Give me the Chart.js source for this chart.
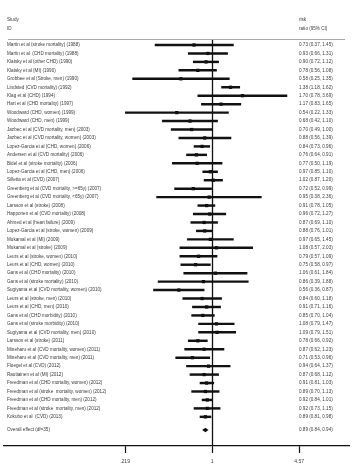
<!DOCTYPE html>
<html>
<head>
<meta charset="utf-8">
<script src="https://cdn.jsdelivr.net/npm/chart.js@4/dist/chart.umd.min.js"></script>
<style>
  html, body { margin: 0; padding: 0; background: #fff; }
  canvas { display: block; }
</style>
</head>
<body>
<canvas id="forest" width="354" height="472"></canvas>
<script>
// Study rows, top to bottom, with risk ratio and 95% CI
const studies = [
  "Martin et al (stroke mortality) (1988)",
  "Martin et al  (CHD mortality) (1988)",
  "Klatsky et al (other CHD) (1990)",
  "Klatsky et al (MI) (1990)",
  "Grobbee et al (Stroke, men) (1990)",
  "Lindsted (CVD mortality) (1992)",
  "Klag et al (CHD) (1994)",
  "Hart et al (CHD mortality) (1997)",
  "Woodward (CHD, women) (1999)",
  "Woodward (CHD, men) (1999)",
  "Jazbec et al (CVD mortality, men) (2003)",
  "Jazbec et al (CVD mortality, women) (2003)",
  "Lopez-Garcia et al (CHD, women) (2006)",
  "Andersen et al (CVD mortality) (2006)",
  "Bidel et al (stroke mortality) (2006)",
  "Lopez-Garcia et al (CHD, men) (2006)",
  "Silletta et al (CVD) (2007)",
  "Greenberg et al (CVD mortality, >=65y) (2007)",
  "Greenberg et al (CVD mortality, <65y) (2007)",
  "Larsson et al (stroke) (2008)",
  "Happonen et al (CVD mortality) (2008)",
  "Ahmed et al (heart failure) (2009)",
  "Lopez-Garcia et al (stroke, women) (2009)",
  "Mukamal et al (MI) (2009)",
  "Mukamal et al (stroke) (2009)",
  "Leurs et al (stroke, women) (2010)",
  "Leurs et al (CHD, women) (2010)",
  "Gans et al (CHD mortality) (2010)",
  "Gans et al (stroke mortality) (2010)",
  "Sugiyama et al (CVD mortality, women) (2010)",
  "Leurs et al (stroke, men) (2010)",
  "Leurs et al (CHD, men) (2010)",
  "Gans et al (CHD morbidity) (2010)",
  "Gans et al (stroke morbidity) (2010)",
  "Sugiyama et al (CVD mortality, men) (2010)",
  "Larsson et al (stroke) (2011)",
  "Mineharu et al (CVD mortality, women) (2011)",
  "Mineharu et al (CVD mortality, men) (2011)",
  "Floegel et al (CVD) (2012)",
  "Rautiainen et al (MI) (2012)",
  "Freedman et al (CHD mortality, women) (2012)",
  "Freedman et al (stroke  mortality, women) (2012)",
  "Freedman et al (CHD mortality, men) (2012)",
  "Freedman et al (stroke  mortality, men) (2012)",
  "Kokubo et al  (CVD) (2013)"
]
const rr = [0.73, 0.93, 0.90, 0.78, 0.58, 1.38, 1.70, 1.17, 0.54, 0.68,
  0.70, 0.88, 0.84, 0.76, 0.77, 0.97, 1.02, 0.72, 0.95, 0.91,
  0.96, 0.87, 0.88, 0.97, 1.08, 0.79, 0.75, 1.06, 0.86, 0.56,
  0.84, 0.91, 0.85, 1.08, 1.09, 0.78, 0.87, 0.71, 0.94, 0.87,
  0.91, 0.89, 0.92, 0.92, 0.89]
const lo = [0.37, 0.66, 0.72, 0.56, 0.25, 1.18, 0.78, 0.83, 0.22, 0.42,
  0.49, 0.56, 0.73, 0.64, 0.50, 0.85, 0.87, 0.52, 0.38, 0.78,
  0.72, 0.69, 0.76, 0.65, 0.57, 0.57, 0.58, 0.61, 0.39, 0.36,
  0.60, 0.71, 0.70, 0.79, 0.79, 0.66, 0.62, 0.53, 0.64, 0.68,
  0.81, 0.70, 0.84, 0.73, 0.81]
const hi = [1.45, 1.31, 1.12, 1.08, 1.35, 1.62, 3.69, 1.65, 1.33, 1.10,
  1.00, 1.39, 0.96, 0.91, 1.19, 1.10, 1.20, 0.99, 2.36, 1.05,
  1.27, 1.10, 1.01, 1.45, 2.03, 1.09, 0.97, 1.84, 1.88, 0.87,
  1.18, 1.16, 1.04, 1.47, 1.51, 0.92, 1.23, 0.96, 1.37, 1.12,
  1.03, 1.13, 1.01, 1.15, 0.98]

const overallLabel = "Overall effect (df=35)"
const overallRR = 0.89
const overallLo = 0.84
const overallHi = 0.94
const overallRow = 46.55

const xTickValues = [0.219, 1, 4.57]
const xTickLabels = [".219", "1", "4.57"]

const FONT = "'Liberation Sans', Arial, sans-serif"
const TEXT_COLOR = "#3a3a3a"
const INK = "#111"

const ciText = (i) => rr[i].toFixed(2) + " (" + lo[i].toFixed(2) + ", " + hi[i].toFixed(2) + ")"

// Header, row labels, CI column, reference line and the pooled diamond
const forestText = {
  id: "forestText",
  beforeDatasetsDraw(chart) {
    const { ctx, chartArea, scales } = chart
    ctx.save()
    // light rule under the header
    ctx.strokeStyle = "#a8a8a8"
    ctx.lineWidth = 1
    ctx.beginPath()
    ctx.moveTo(chartArea.left + 4, chartArea.top + 0.5)
    ctx.lineTo(chartArea.right - 4, chartArea.top + 0.5)
    ctx.stroke()
    // no-effect line at 1
    const x1 = Math.round(scales.x.getPixelForValue(1)) + 0.5
    ctx.strokeStyle = INK
    ctx.lineWidth = 1.3
    ctx.beginPath()
    ctx.moveTo(x1, chartArea.top + 1)
    ctx.lineTo(x1, chartArea.bottom)
    ctx.stroke()
    ctx.restore()
  },
  afterDatasetsDraw(chart) {
    const { ctx, scales } = chart
    ctx.save()
    ctx.fillStyle = TEXT_COLOR
    ctx.font = "4.6px " + FONT
    ctx.textBaseline = "middle"
    ctx.textAlign = "left"
    ctx.fillText("Study", 7, 20)
    ctx.fillText("ID", 7, 29)
    ctx.fillText("risk", 299, 20)
    ctx.fillText("ratio (95% CI)", 299, 29)
    studies.forEach((s, i) => {
      const y = scales.y.getPixelForValue(i + 1)
      ctx.fillText(s, 7, y)
      ctx.fillText(ciText(i), 299, y)
    })
    const yo = scales.y.getPixelForValue(overallRow)
    ctx.fillText(overallLabel, 7, yo)
    ctx.fillText(overallRR.toFixed(2) + " (" + overallLo.toFixed(2) + ", " + overallHi.toFixed(2) + ")", 299, yo)
    // pooled estimate diamond
    ctx.fillStyle = INK
    ctx.beginPath()
    ctx.moveTo(scales.x.getPixelForValue(overallLo), yo)
    ctx.lineTo(scales.x.getPixelForValue(overallRR), yo - 2.2)
    ctx.lineTo(scales.x.getPixelForValue(overallHi), yo)
    ctx.lineTo(scales.x.getPixelForValue(overallRR), yo + 2.2)
    ctx.closePath()
    ctx.fill()
    ctx.restore()
  }
}

new Chart(document.getElementById("forest").getContext("2d"), {
  type: "bar",
  plugins: [forestText],
  data: {
    datasets: [
      {
        type: "bar",
        data: studies.map((s, i) => ({ x: [lo[i], hi[i]], y: i + 1 })),
        backgroundColor: INK,
        barThickness: 1.8,
        borderWidth: 0
      },
      {
        type: "scatter",
        data: studies.map((s, i) => ({ x: rr[i], y: i + 1 })),
        pointStyle: "rect",
        pointRadius: 2.3,
        backgroundColor: "#000",
        borderWidth: 0
      }
    ]
  },
  options: {
    indexAxis: "y",
    responsive: false,
    animation: false,
    layout: { padding: { top: 39, left: 3, right: 5, bottom: 1 } },
    plugins: { legend: false, tooltip: { enabled: false } },
    scales: {
      x: {
        type: "logarithmic",
        min: 0.0265,
        max: 10.9,
        grid: { drawOnChartArea: false, drawTicks: true, tickLength: 7, tickColor: INK, tickWidth: 1.2 },
        border: { display: true, color: INK, width: 1.2 },
        afterBuildTicks: (axis) => {
          axis.ticks = xTickValues.map((v) => ({ value: v }))
        },
        ticks: {
          autoSkip: false,
          maxRotation: 0,
          padding: 6,
          color: TEXT_COLOR,
          font: { family: FONT, size: 5 },
          callback: (val) => {
            const k = xTickValues.findIndex((t) => Math.abs(t - val) < 1e-6)
            return k >= 0 ? xTickLabels[k] : ""
          }
        }
      },
      y: {
        type: "linear",
        reverse: true,
        offset: false,
        min: 0.29,
        max: 48.45,
        display: false
      }
    }
  }
})
</script>
</body>
</html>
